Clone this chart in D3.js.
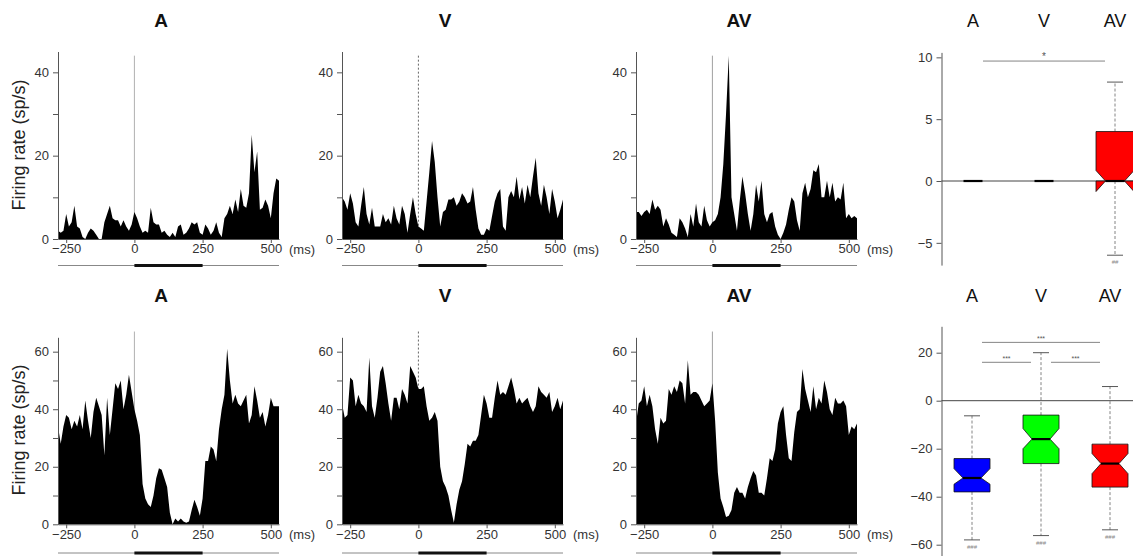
<!DOCTYPE html>
<html><head><meta charset="utf-8">
<script src="https://cdn.jsdelivr.net/npm/d3@7"></script>
<style>
body{margin:0;background:#fff;}
svg{display:block;font-family:"Liberation Sans",Arial,Helvetica,sans-serif;}
</style></head><body>
<svg id="c" width="1133" height="556"></svg>
<script>
// ---------- data ----------
const binTimes = d3.range(-280, 531, 10);           // bin times (ms)
const conditions = ["A", "V", "AV"];
const xTickValues = [-250, 0, 250, 500];
const topYTicks = [0, 10, 20, 30, 40];
const bottomYTicks = [0, 10, 20, 30, 40, 50, 60];

const topA = [2,1.5,2,6,3,4,8,3,2.5,0.5, 0,1.5,2.5,2,1,0,0,4,6,8, 5,4.5,4.5,3,4.5,3,2,3.5,6.5,5,
  3,1.5,2,1.5,7.5,4,3.5,3.5,1.5,2, 1,0.5,1.5,0.5,3,3.5,1,1.5,2.5,4, 3.5,4,1.5,1,3.5,2.5,1,2,4,1.5,
  0.5,5,6,8,6,9.5,6.5,12,8,7.5, 11,25,16,21,7,7.5,9.5,8,5,11, 14.5,14];
const topV = [10,9,7,11,8.5,4,3,8,12.5,6, 3.5,7.5,3,3,3,6,4,5,3.5,8, 5,3.5,8,6,1.5,6,10,6,3,2.5,
  2,9,16,23.5,18.5,10,3,6.5,7,9.5, 9.5,10,8,9,11,10,8.5,9,12.5,7, 2.5,1,1,2.5,2,5.5,9,11,12,3,
  2,10,11.5,10,15,9.5,12.5,8.5,13,10, 15,19.5,11,8,13,10,6,12,9,5, 7,9.5];
const topAV = [6.5,6.5,5.5,6.5,7,6,9.5,7,8,7, 3,5,3.5,1.5,1,0.5,5,4,2.5,0.5, 6,3,8.5,4,3,8,4.5,3,4,4.5,
  6,10,18,30,44,10,6,2,9,15, 11,6,2,6,13,9,14,6,4,6, 6.5,3,1,0,1.5,3.5,7,10,9,4.5,
  2,11,13.5,10,12,16.5,16,18,10,10, 14,10,13.5,9,10,9.5,13.5,5,6,5, 5.5,5];
const botA = [34,28,34,38,37,33,36,34,38,33, 43,36,30,39,44,41,38,24,44,31, 40,49,47,50,40,45,52,46,40,36,
  31,14,9,7,6,10,16,19.5,19,16, 13,4,0,2,1,2,1,0.5,1,5, 8.5,6,3,9,22,22,27,26,22,33,
  40,45,61,50,42,45,42,41,43,45, 35,38,48,43,37,39,34,38,44,41, 41,41];
const botV = [42,37,38,51,50,41,45,42,41,39, 58,41,37,44,53,55,49,42,36,44, 44,40,47,45,42,55,53,51,47,47,
  48,41,36,37,39,36,20,15,13,10, 5,0.5,7,12,15,21,28,27,29,29, 31,38,45,42,37,37,44,50,45,46,
  45,48,51,47,42,44,42,43,44,41, 39,41,48,46,45,44,46,39,41,44, 40,43];
const botAV = [35,42,43,48,41,45,41,33,28,37, 35,36,47,45,48,46,50,49,42,57, 45,46,46,45,43,41,42,43,49,36,
  18,9,6,2.5,3,5,11,13,11,11, 9,13,16,18.5,17,11,11,10,16,23, 22,26,35,39,41,31,23,22,32,39,
  40,54,47,43,39,48,40,44,42,50, 46,40,38,44,42,42,43,41,31,34, 33,35];

// box plot statistics (difference values)
const boxCats = ["A", "V", "AV"];
const boxColors = ["#0000ff", "#00ff00", "#ff0000"];
const topBoxTicks = [-5, 0, 5, 10];
const topQ1 = [0, 0, 0], topMed = [0, 0, 0], topQ3 = [0, 0, 4];
const topNotchLo = [0, 0, -0.85], topNotchHi = [0, 0, 0.85];
const topWhiskLo = [0, 0, -6], topWhiskHi = [0, 0, 8];
const topSig = [["A", "AV", 9.7, "*"]];
const topMarks = [["AV", "##"]];

const botBoxTicks = [-60, -40, -20, 0, 20];
const botQ1 = [-38, -26.2, -36], botMed = [-32.2, -16, -26.2], botQ3 = [-24.1, -6, -18.1];
const botNotchLo = [-34.8, -20, -30.4], botNotchHi = [-28.3, -11.6, -22];
const botWhiskLo = [-58, -56.2, -53.8], botWhiskHi = [-6.3, 20, 5.9];
const botSig = [["A", "AV", 24.3, "***"], ["A", "V", 16, "***"], ["V", "AV", 16, "***"]];
const botMarks = [["A", "###"], ["V", "###"], ["AV", "###"]];

// ---------- drawing ----------
const svg = d3.select("#c");
const panelLefts = [58, 342, 636];
const panelWidth = 221;
const zeroColor = ["#b0b0b0", "#666", "#a0a0a0"];
const zeroDash = [null, "2,2", null];

const rows = [
  {top: 51.5, bottom: 239, yMax: 45, ticks: topYTicks, data: [topA, topV, topAV], zeroTop: 44, titleY: 27, stimY: 265.5, ylabelY: 145},
  {top: 337.3, bottom: 524.3, yMax: 65, ticks: bottomYTicks, data: [botA, botV, botAV], zeroTop: 67, titleY: 302, stimY: 553, ylabelY: 430}
];

function styleAxis(g) {
  g.select(".domain").attr("stroke", "#555");
  g.selectAll(".tick line").attr("stroke", "#555");
  g.selectAll(".tick text").attr("fill", "#333").style("font-size", "13px")
    .style("font-family", '"Liberation Sans",Arial,sans-serif');
}

rows.forEach(row => {
  const y = d3.scaleLinear().domain([0, row.yMax]).range([row.bottom, row.top]);
  svg.append("text")
    .attr("transform", `translate(25,${row.ylabelY}) rotate(-90)`)
    .attr("text-anchor", "middle").attr("fill", "#222").style("font-size", "18px")
    .text("Firing rate (sp/s)");

  conditions.forEach((cond, p) => {
    const left = panelLefts[p];
    const x = d3.scaleLinear().domain([-280, 530]).range([left, left + panelWidth]);
    const g = svg.append("g");

    g.append("text").attr("x", left + 103).attr("y", row.titleY)
      .attr("text-anchor", "middle").attr("font-weight", "bold").style("font-size", "19px")
      .attr("fill", "#111").text(cond);

    g.append("line").attr("x1", x(0)).attr("x2", x(0))
      .attr("y1", y(row.zeroTop)).attr("y2", y(0))
      .attr("stroke", zeroColor[p]).attr("stroke-width", 1)
      .attr("stroke-dasharray", zeroDash[p]);

    const area = d3.area()
      .x((d, i) => x(binTimes[i]))
      .y0(y(0)).y1(d => y(d));
    g.append("path").datum(row.data[p]).attr("d", area).attr("fill", "#000");

    g.append("g").attr("transform", `translate(${left},0)`)
      .call(d3.axisLeft(y).tickValues(row.ticks).tickSize(5).tickSizeOuter(0).tickPadding(4)
        .tickFormat(d => d % 20 === 0 ? d : ""))
      .call(styleAxis);
    g.append("g").attr("transform", `translate(0,${row.bottom})`)
      .call(d3.axisBottom(x).tickValues(xTickValues).tickSize(4).tickSizeOuter(0).tickPadding(1))
      .call(styleAxis);

    g.append("text").attr("x", x(530) + 10).attr("y", row.bottom + 15)
      .attr("fill", "#333").style("font-size", "13px").text("(ms)");

    // stimulus bar
    g.append("line").attr("x1", x(-280)).attr("x2", x(530))
      .attr("y1", row.stimY).attr("y2", row.stimY).attr("stroke", "#888").attr("stroke-width", 1);
    g.append("line").attr("x1", x(0)).attr("x2", x(250))
      .attr("y1", row.stimY).attr("y2", row.stimY).attr("stroke", "#111").attr("stroke-width", 3);
  });
});

// ---------- box plots ----------
const boxPanels = [
  {y: d3.scaleLinear().domain([-6.8, 10.4]).range([265.1, 52.4]), xr: [973, 1115], w: 19, ticks: topBoxTicks,
   q1: topQ1, med: topMed, q3: topQ3, nLo: topNotchLo, nHi: topNotchHi, wLo: topWhiskLo, wHi: topWhiskHi,
   sig: topSig, marks: topMarks, headY: 27},
  {y: d3.scaleLinear().domain([-65, 31]).range([556.7, 326.3]), xr: [972, 1110], w: 18, ticks: botBoxTicks,
   q1: botQ1, med: botMed, q3: botQ3, nLo: botNotchLo, nHi: botNotchHi, wLo: botWhiskLo, wHi: botWhiskHi,
   sig: botSig, marks: botMarks, headY: 302}
];
const axisX = 941.5;

boxPanels.forEach(bp => {
  const y = bp.y;
  const x = d3.scalePoint().domain(boxCats).range(bp.xr);
  const g = svg.append("g");

  boxCats.forEach(c => {
    g.append("text").attr("x", x(c)).attr("y", bp.headY).attr("text-anchor", "middle")
      .attr("fill", "#111").style("font-size", "18px").text(c);
  });

  g.append("g").attr("transform", `translate(${axisX},0)`)
    .call(d3.axisLeft(y).tickValues(bp.ticks).tickSize(5).tickSizeOuter(0).tickPadding(4))
    .call(styleAxis);

  g.append("line").attr("x1", axisX).attr("x2", 1133).attr("y1", y(0)).attr("y2", y(0))
    .attr("stroke", "#444").attr("stroke-width", 1);

  boxCats.forEach((c, i) => {
    const cx = x(c), w = bp.w, ns = 0.5, cap = 8;
    if (bp.wHi[i] !== bp.q3[i]) {
      g.append("line").attr("x1", cx).attr("x2", cx).attr("y1", y(bp.q3[i])).attr("y2", y(bp.wHi[i]))
        .attr("stroke", "#666").attr("stroke-width", 0.8).attr("stroke-dasharray", "3,2");
      g.append("line").attr("x1", cx - cap).attr("x2", cx + cap).attr("y1", y(bp.wHi[i])).attr("y2", y(bp.wHi[i]))
        .attr("stroke", "#444").attr("stroke-width", 0.9);
    }
    if (bp.wLo[i] !== bp.q1[i]) {
      g.append("line").attr("x1", cx).attr("x2", cx).attr("y1", y(bp.q1[i])).attr("y2", y(bp.wLo[i]))
        .attr("stroke", "#666").attr("stroke-width", 0.8).attr("stroke-dasharray", "3,2");
      g.append("line").attr("x1", cx - cap).attr("x2", cx + cap).attr("y1", y(bp.wLo[i])).attr("y2", y(bp.wLo[i]))
        .attr("stroke", "#444").attr("stroke-width", 0.9);
    }
    if (bp.q3[i] !== bp.q1[i]) {
      const pts = [
        [cx - w, bp.q1[i]], [cx + w, bp.q1[i]], [cx + w, bp.nLo[i]], [cx + w * ns, bp.med[i]],
        [cx + w, bp.nHi[i]], [cx + w, bp.q3[i]], [cx - w, bp.q3[i]], [cx - w, bp.nHi[i]],
        [cx - w * ns, bp.med[i]], [cx - w, bp.nLo[i]]
      ].map(d => [d[0], y(d[1])]);
      g.append("path").attr("d", "M" + pts.join("L") + "Z")
        .attr("fill", boxColors[i]).attr("stroke", "#111").attr("stroke-width", 0.8);
    }
    g.append("line").attr("x1", cx - w * ns).attr("x2", cx + w * ns)
      .attr("y1", y(bp.med[i])).attr("y2", y(bp.med[i]))
      .attr("stroke", "#000").attr("stroke-width", 2.2);
  });

  bp.sig.forEach(s => {
    const x1 = x(s[0]) + 10, x2 = x(s[1]) - 10, yy = y(s[2]);
    g.append("line").attr("x1", x1).attr("x2", x2).attr("y1", yy).attr("y2", yy)
      .attr("stroke", "#777").attr("stroke-width", 0.9);
    g.append("text").attr("x", (x1 + x2) / 2).attr("y", yy - 1.5).attr("text-anchor", "middle")
      .attr("fill", "#555").style("font-size", s[3].length > 1 ? "7px" : "10px").text(s[3]);
  });

  bp.marks.forEach(m => {
    const i = boxCats.indexOf(m[0]);
    g.append("text").attr("x", x(m[0])).attr("y", y(bp.wLo[i]) + 9).attr("text-anchor", "middle")
      .attr("fill", "#888").style("font-size", "6px").text(m[1]);
  });
});
</script>
</body></html>
